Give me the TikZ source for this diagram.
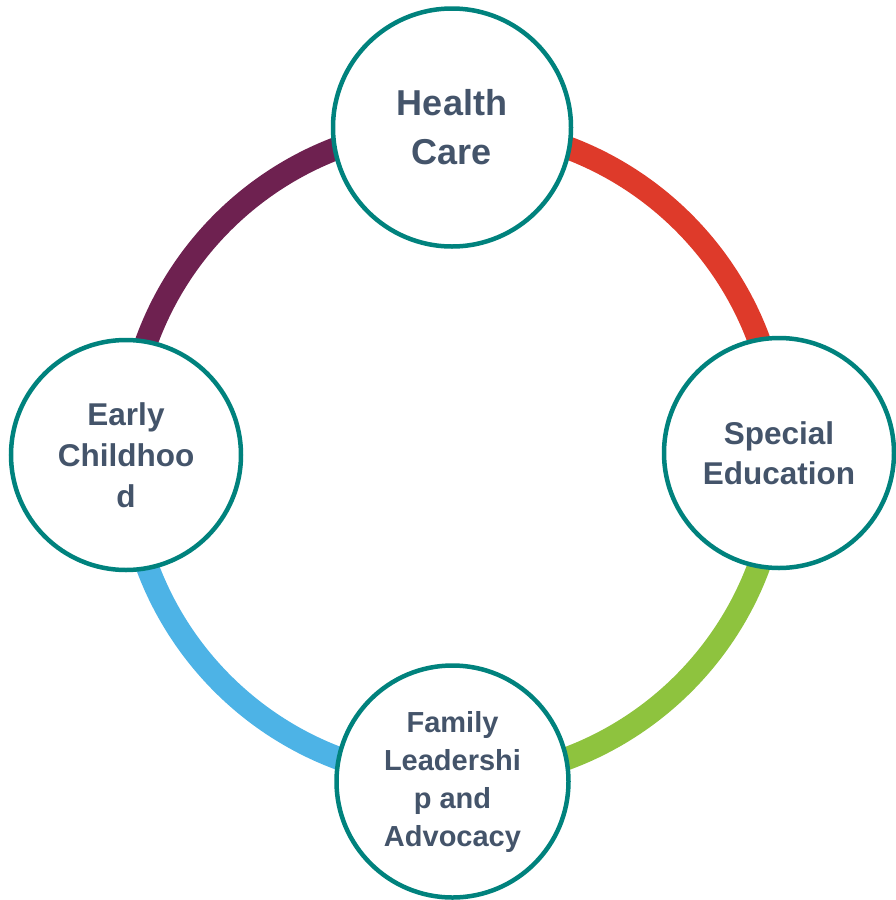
\documentclass[tikz,border=0pt]{standalone}
\usepackage{fontspec}
\setmainfont{Liberation Sans}
\definecolor{ringpurple}{HTML}{6E2150}
\definecolor{ringred}{HTML}{DE3A2A}
\definecolor{ringgreen}{HTML}{8EC33E}
\definecolor{ringblue}{HTML}{4DB3E6}
\definecolor{tealc}{HTML}{00827D}
\definecolor{txt}{HTML}{44546A}
\begin{document}
\begin{tikzpicture}[x=1pt,y=-1pt,
  ringarc/.style={line width=23pt},
  bubble/.style={circle,draw=tealc,line width=4.5pt,fill=white,inner sep=0pt,
    text=txt,align=center,minimum size=230pt}]
\useasboundingbox (0,0) rectangle (895,900);
\coordinate (c) at (453,453);
\draw[ringarc,ringpurple] ([shift={(-326,0)}]c) arc[start angle=180,end angle=270,radius=326];
\draw[ringarc,ringred] ([shift={(0,-326)}]c) arc[start angle=270,end angle=360,radius=326];
\draw[ringarc,ringgreen] ([shift={(326,0)}]c) arc[start angle=0,end angle=90,radius=326];
\draw[ringarc,ringblue] ([shift={(0,326)}]c) arc[start angle=90,end angle=180,radius=326];
\node[bubble,minimum size=238pt,font=\fontsize{36}{49}\selectfont\bfseries] (hc) at (452,127.5) {Health\\Care};
\node[bubble,font=\fontsize{31.5}{40}\selectfont\bfseries] (se) at (779,453) {Special\\Education};
\node[bubble,font=\fontsize{31.5}{41}\selectfont\bfseries] (ec) at (126,455) {Early\\Childhoo\\d};
\node[bubble,minimum size=232pt,font=\fontsize{29}{38}\selectfont\bfseries] (fl) at (452.5,781.5) {Family\\Leadershi\\p and\\Advocacy};
\end{tikzpicture}
\end{document}
